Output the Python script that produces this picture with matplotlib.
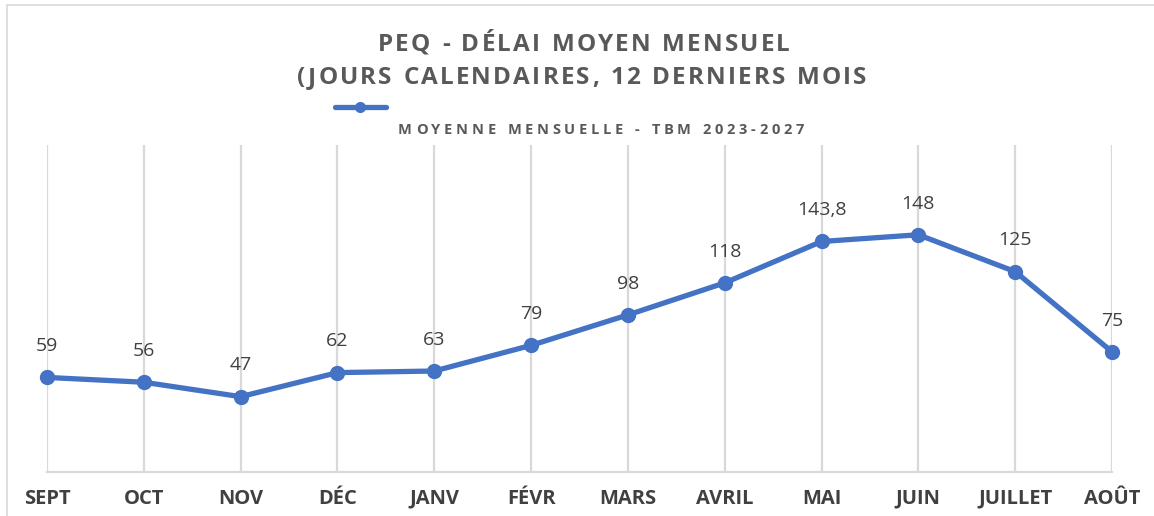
import matplotlib.pyplot as plt
from matplotlib.lines import Line2D
from matplotlib.patches import Rectangle

# Données du graphique
mois = ['SEPT', 'OCT', 'NOV', 'DÉC', 'JANV', 'FÉVR', 'MARS', 'AVRIL', 'MAI', 'JUIN', 'JUILLET', 'AOÛT']
delai = [59, 56, 47, 62, 63, 79, 98, 118, 143.8, 148, 125, 75]
etiquettes = ['59', '56', '47', '62', '63', '79', '98', '118', '143,8', '148', '125', '75']

titre1 = 'PEQ - DÉLAI MOYEN MENSUEL'
titre2 = '(JOURS CALENDAIRES, 12 DERNIERS MOIS'
legende = 'MOYENNE MENSUELLE - TBM 2023-2027'

bleu = '#4472C4'
gris = '#595959'
grille = '#D9D9D9'

plt.rcParams['font.family'] = ['Open Sans', 'DejaVu Sans']

W, H = 1154, 516
fig = plt.figure(figsize=(W / 100, H / 100), dpi=100)
renderer = fig.canvas.get_renderer()


def texte_espace(xc, yc, s, espace, **kw):
    # texte centré, avec un espacement supplémentaire entre les lettres (en pixels)
    largeurs = []
    for c in s:
        t = fig.text(0, 0, c if c != ' ' else 'n', **kw)
        w = t.get_window_extent(renderer).width
        if c == ' ':
            w *= 0.45
        largeurs.append(w)
        t.remove()
    total = sum(largeurs) + espace * (len(s) - 1)
    x = xc - total / 2
    for c, w in zip(s, largeurs):
        fig.text(x / W, 1 - yc / H, c, ha='left', va='center', **kw)
        x += w + espace


ax = fig.add_axes([47 / W, 44 / H, (1112 - 47) / W, (472 - 145) / H])

x = list(range(len(mois)))
ax.plot(x, delai, color=bleu, lw=3.8, marker='o', ms=10, solid_capstyle='round',
        zorder=3, clip_on=False)

# Étiquettes de données
for xi, yi, txt in zip(x, delai, etiquettes):
    ax.annotate(txt, (xi, yi), xytext=(0, 16), textcoords='offset points',
                ha='center', va='bottom', fontsize=14, color='#404040')

ax.set_xlim(0, len(mois) - 1)
ax.set_ylim(0, 204)
ax.set_xticks(x)
ax.set_xticklabels(mois, fontsize=14.5, fontweight='bold', color='#404040')
ax.set_yticks([])
ax.tick_params(axis='x', length=0, pad=12)
ax.grid(axis='x', color=grille, lw=1.6, zorder=0)
for s in ['top', 'left', 'right']:
    ax.spines[s].set_visible(False)
ax.spines['bottom'].set_color(grille)
ax.spines['bottom'].set_linewidth(1.6)

# Titre
texte_espace(584, 45, titre1, 2.2, fontsize=17.5, fontweight='bold', color=gris)
texte_espace(582, 78, titre2, 2.2, fontsize=17.5, fontweight='bold', color=gris)

# Légende
fig.add_artist(Line2D([335 / W, 386 / W], [1 - 107 / H] * 2, color=bleu, lw=3.8,
                      solid_capstyle='round', transform=fig.transFigure))
fig.add_artist(Line2D([360 / W], [1 - 107 / H], color=bleu, marker='o', ms=7,
                      transform=fig.transFigure))
texte_espace(601, 130, legende, 3.7, fontsize=10.5, fontweight='bold', color=gris)

# Cadre
fig.add_artist(Rectangle((7 / W, -0.01), 1.1, 1.0, transform=fig.transFigure,
                         fill=False, edgecolor=grille, lw=1.2))

fig.savefig('out.png', dpi=100)
